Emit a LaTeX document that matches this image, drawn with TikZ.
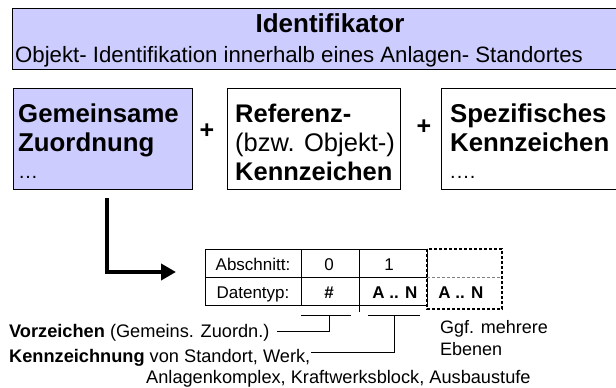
\documentclass[tikz,border=0pt]{standalone}
\usepackage{fontspec}
\setmainfont{Liberation Sans}
\usetikzlibrary{arrows.meta}
\definecolor{lav}{HTML}{CCCCFF}
\newcommand{\fs}[1]{\fontsize{#1}{#1}\selectfont}
\begin{document}
\begin{tikzpicture}[x=1pt,y=-1pt,
  txt/.style={inner sep=0pt,anchor=base west},
  ctr/.style={inner sep=0pt,anchor=base},
  blk/.style={draw=black,line width=0.9pt},
  thin/.style={draw=black,line width=0.6pt},
  conn/.style={draw=black,line width=0.8pt}]
\useasboundingbox (0,0) rectangle (616,388);

% header bar
\path[blk,fill=lav] (12,8) rectangle (640,69);
\node[ctr] (title) at (330,32) {\fs{26}\bfseries Identifikator};
\node[txt] (sub) at (15,62) {\fs{22.2}Objekt- Identifikation innerhalb eines Anlagen- Standortes};

% three code parts
\path[blk,fill=lav] (13,88) rectangle (192,189);
\node[txt] (g1) at (18,122) {\fs{25.8}\bfseries Gemeinsame};
\node[txt] (g2) at (18,151) {\fs{25.8}\bfseries Zuordnung};
\node[txt] (g3) at (18,178) {\fs{20}\dots};
\coordinate (gz) at (107,198);

\node[inner sep=0pt] (p1) at (207,131) {\fs{25}\bfseries +};

\path[blk] (227,88) rectangle (400,189);
\node[txt] (r1) at (235,122) {\fs{25.5}\bfseries Referenz-};
\node[txt] (r2) at (235,151) {\fs{25.5}(bzw. Objekt-)};
\node[txt] (r3) at (235,180) {\fs{25.5}\bfseries Kennzeichen};

\node[inner sep=0pt] (p2) at (424,127) {\fs{25}\bfseries +};

\path[blk] (441,88) rectangle (640,189);
\node[txt] (s1) at (450,122) {\fs{25.8}\bfseries Spezifisches};
\node[txt] (s2) at (450,151) {\fs{25.8}\bfseries Kennzeichen};
\node[txt] (s3) at (450,178) {\fs{20}.\kern1pt.\kern1pt.\kern1pt.};

% table of sections and data types
\draw[thin] (205,249) rectangle (427,305);
\draw[thin] (205,277) -- (427,277);
\draw[thin] (301,249) -- (301,305);
\draw[thin] (359,249) -- (359,312);
\draw[thin,dashed,line width=1.1pt,dash pattern=on 3pt off 2pt] (427,249) rectangle (502,309);
\draw[gray,line width=0.8pt,dash pattern=on 3pt off 2pt] (427,277) -- (502,277);
\node[ctr] (h0) at (253,270) {\fs{17}Abschnitt:};
\node[ctr] (h1) at (253,298) {\fs{17}Datentyp:};
\node[ctr] (c0) at (329,270) {\fs{17}0};
\node[ctr] (d0) at (329,298) {\fs{17}\bfseries \#};
\node[ctr] (c1) at (389,270) {\fs{17}1};
\node[ctr] (d1) at (395,298) {\fs{17}\bfseries A .. N};
\node[ctr] (d2) at (461,298) {\fs{17}\bfseries A .. N};
\coordinate (tin) at (176,272);

% L-shaped arrow from the common assignment to the table
\draw[line width=3.8pt,-{Triangle[length=15pt,width=16pt]}] (gz) |- (tin);

% brackets and explanations
\node[txt] (vz) at (9,337) {\fs{18.2}\textbf{Vorzeichen} (Gemeins. Zuordn.)};
\node[txt] (kz) at (9,362) {\fs{18.2}\textbf{Kennzeichnung} von Standort, Werk,};
\node[txt] (ak) at (146,383) {\fs{18.2}Anlagenkomplex, Kraftwerksblock, Ausbaustufe};
\node[txt] (gg) at (440,333) {\fs{18}Ggf. mehrere};
\node[txt] (eb) at (440,355) {\fs{18}Ebenen};

\coordinate (b0) at (329,315);
\coordinate (b1) at (394,315);
\draw[conn] (301,315) -- (351,315);
\draw[conn] (b0) |- ([xshift=7pt]vz.east |- 0,331);
\draw[conn] (368,315) -- (420,315);
\draw[conn] (b1) |- ([xshift=1pt]kz.east |- 0,352);
\end{tikzpicture}
\end{document}
